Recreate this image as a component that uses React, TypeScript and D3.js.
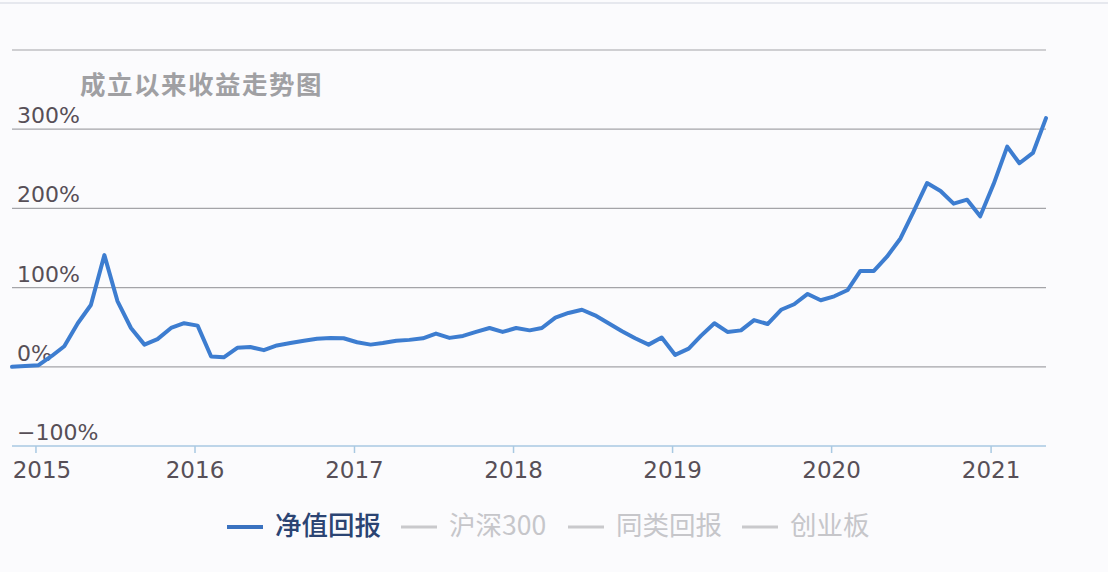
import * as d3 from "d3";
import { useEffect } from "react";

// monthly net value return since inception (%)
const months = [
    "2014-11", "2014-12",
    "2015-01", "2015-02", "2015-03", "2015-04", "2015-05", "2015-06",
    "2015-07", "2015-08", "2015-09", "2015-10", "2015-11", "2015-12",
    "2016-01", "2016-02", "2016-03", "2016-04", "2016-05", "2016-06",
    "2016-07", "2016-08", "2016-09", "2016-10", "2016-11", "2016-12",
    "2017-01", "2017-02", "2017-03", "2017-04", "2017-05", "2017-06",
    "2017-07", "2017-08", "2017-09", "2017-10", "2017-11", "2017-12",
    "2018-01", "2018-02", "2018-03", "2018-04", "2018-05", "2018-06",
    "2018-07", "2018-08", "2018-09", "2018-10", "2018-11", "2018-12",
    "2019-01", "2019-02", "2019-03", "2019-04", "2019-05", "2019-06",
    "2019-07", "2019-08", "2019-09", "2019-10", "2019-11", "2019-12",
    "2020-01", "2020-02", "2020-03", "2020-04", "2020-05", "2020-06",
    "2020-07", "2020-08", "2020-09", "2020-10", "2020-11", "2020-12",
    "2021-01", "2021-02", "2021-03", "2021-04", "2021-05",
];

const netReturn = [
    0, 1,
    2, 14, 26, 55, 78, 141,
    83, 49, 28, 35, 49, 55,
    52, 13, 12, 24, 25, 21,
    27, 30, 33, 35.5, 36.5, 36,
    31, 28, 30, 33, 34, 36,
    42, 36.5, 39, 44, 49, 44,
    49, 46, 49, 62, 68, 72,
    65, 55, 45, 36, 28, 37,
    15, 23, 39, 55, 44, 46,
    59, 54, 72, 79, 92, 84,
    89, 97, 121, 121, 139, 162,
    196, 232, 222, 206, 211, 190,
    231, 278, 257, 270, 314,
];

const yTickValues = [-100, 0, 100, 200, 300];
const gridValues = [0, 100, 200, 300, 400];
const yearTicks = [2015, 2016, 2017, 2018, 2019, 2020, 2021];

const legendItems = [
    { name: "净值回报", active: true },
    { name: "沪深300", active: false },
    { name: "同类回报", active: false },
    { name: "创业板", active: false },
];

const title = "成立以来收益走势图";

const W = 1108;
const H = 572;
const left = 12;
const right = 1046;
const numFont = "'DejaVu Sans', sans-serif";
const cjkFont = "'Noto Sans CJK SC', 'Noto Sans', sans-serif";

const parseMonth = d3.timeParse("%Y-%m");

const App = () => {
    useEffect(() => {
        document.body.style.margin = "0";
        document.body.style.background = "#fbfbfd";
    }, []);

    const data = months.map((m, i) => ({
        date: d3.timeDay.offset(parseMonth(m), 6),
        value: netReturn[i],
    }));

    const xScale = d3
        .scaleTime()
        .domain(d3.extent(data, (d) => d.date))
        .range([left, right]);

    const yScale = d3.scaleLinear().domain([-100, 400]).range([446, 50]);

    const line = d3
        .line()
        .x((d) => xScale(d.date))
        .y((d) => yScale(d.value));

    // rough text widths for legend layout
    const textWidth = (s) =>
        Array.from(s).reduce((w, c) => w + (/[0-9]/.test(c) ? 15 : 26), 0);

    let lx = 227;
    const legend = legendItems.map((it) => {
        const item = { ...it, x: lx };
        lx += 36 + 12 + textWidth(it.name) + 22;
        return item;
    });

    return (
        <svg width={W} height={H} style={{ display: "block", background: "#fbfbfd" }}>
            <line x1={0} x2={W} y1={3} y2={3} stroke="#dfe2e8" strokeWidth={1.5} />

            {gridValues.map((v) => (
                <line
                    key={`grid-${v}`}
                    x1={left}
                    x2={right}
                    y1={yScale(v)}
                    y2={yScale(v)}
                    stroke="#a4a4a8"
                    strokeWidth={1.2}
                />
            ))}

            <text
                x={80}
                y={94}
                fontFamily={cjkFont}
                fontSize={25.5}
                fontWeight={600}
                fill="#a0a0a3"
                letterSpacing={1.5}
            >
                {title}
            </text>

            {yTickValues.map((v) => (
                <text
                    key={`yl-${v}`}
                    x={17}
                    y={yScale(v) - 6}
                    fontFamily={numFont}
                    fontSize={22}
                    fill="#574f57"
                >
                    {(v < 0 ? "−" : "") + Math.abs(v) + "%"}
                </text>
            ))}

            <line
                x1={left}
                x2={right}
                y1={yScale(-100)}
                y2={yScale(-100)}
                stroke="#a9c9e2"
                strokeWidth={1.5}
            />
            {yearTicks.map((yr) => {
                const x = xScale(new Date(yr, 0, 1));
                // first label is pushed right so it stays inside the chart
                const lxPos = Math.max(x, left + 30);
                return (
                    <g key={`xt-${yr}`}>
                        <line
                            x1={x}
                            x2={x}
                            y1={yScale(-100)}
                            y2={yScale(-100) + 7}
                            stroke="#a9c9e2"
                            strokeWidth={1.5}
                        />
                        <text
                            x={lxPos}
                            y={478}
                            textAnchor="middle"
                            fontFamily={numFont}
                            fontSize={23}
                            fill="#574f57"
                        >
                            {yr}
                        </text>
                    </g>
                );
            })}

            <path
                d={line(data)}
                fill="none"
                stroke="#3d7dd0"
                strokeWidth={4}
                strokeLinejoin="round"
                strokeLinecap="round"
            />

            {legend.map((it) => (
                <g key={`lg-${it.name}`}>
                    <line
                        x1={it.x}
                        x2={it.x + 36}
                        y1={527}
                        y2={527}
                        stroke={it.active ? "#3a72c0" : "#c9c9cc"}
                        strokeWidth={it.active ? 4 : 3}
                    />
                    <text
                        x={it.x + 48}
                        y={535}
                        fontFamily={cjkFont}
                        fontSize={26.5}
                        fontWeight={it.active ? 500 : 400}
                        fill={it.active ? "#2b4473" : "#c6c6ca"}
                    >
                        {it.name}
                    </text>
                </g>
            ))}
        </svg>
    );
};

export default App;
